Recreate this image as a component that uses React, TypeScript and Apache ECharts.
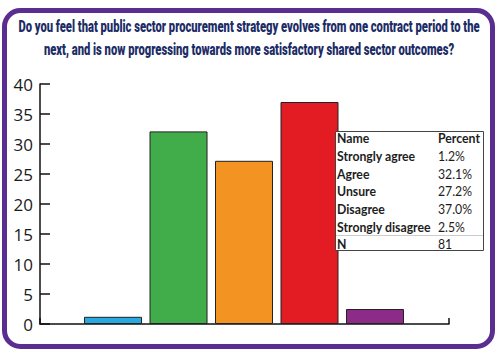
import React, { useEffect, useRef } from "react";
import * as echarts from "echarts";

const categories = ["Strongly agree", "Agree", "Unsure", "Disagree", "Strongly disagree"];
const percents = [1.2, 32.1, 27.2, 37.0, 2.5];
const respondents = 81;
const barColors = ["#27a9e1", "#40ad4a", "#f29322", "#e31c24", "#8c2c88"];
const yMin = 0;
const yMax = 40;
const yInterval = 5;
const titleLines = [
  "Do you feel that public sector procurement strategy evolves from one contract period to the",
  "next, and is now progressing towards more satisfactory shared sector outcomes?",
];
const tableHeader = ["Name", "Percent"];

function measure(text: string, font: string): number {
  const ctx = document.createElement("canvas").getContext("2d");
  if (!ctx) return text.length * 7;
  ctx.font = font;
  return ctx.measureText(text).width;
}

export default function App() {
  const ref = useRef<HTMLDivElement>(null);
  useEffect(() => {
    if (!ref.current) return;
    const chart = echarts.init(ref.current, undefined, { renderer: "svg" });

    const titleFont = "Roboto";
    const titleSize = 17;
    const titleWeight = 900;
    const t1w = measure(titleLines[0], `${titleWeight} ${titleSize}px ${titleFont}`);
    const titleScale = 462 / t1w;

    const tabFont = "Lato";
    const tabSize = 13;
    const sdw = measure(categories[4], `bold ${tabSize}px ${tabFont}`);
    const tabScale = 94 / sdw;

    const rowsL = [tableHeader[0], ...categories, "N"];
    const rowsR = [tableHeader[1], ...percents.map((p) => p.toFixed(1) + "%"), String(respondents)];

    const tableEls: any[] = [];
    tableEls.push({
      type: "rect",
      shape: { x: 335.5, y: 131.5, width: 148, height: 119 },
      style: { fill: "#fff", stroke: "#444", lineWidth: 1 },
      z: 10,
    });
    tableEls.push({
      type: "line",
      shape: { x1: 336, y1: 235.5, x2: 483, y2: 235.5 },
      style: { stroke: "#ccc", lineWidth: 1 },
      z: 11,
    });
    rowsL.forEach((txt, i) => {
      const y = 138.5 + i * 17.7;
      tableEls.push({
        type: "text",
        x: 337,
        y,
        scaleX: tabScale,
        z: 12,
        style: {
          text: txt,
          x: 0,
          y: 0,
          fontFamily: tabFont,
          fontWeight: "bold",
          fontSize: tabSize,
          fill: "#1e1e1e",
          align: "left",
          verticalAlign: "middle",
        },
      });
      tableEls.push({
        type: "text",
        x: 438,
        y,
        scaleX: tabScale,
        z: 12,
        style: {
          text: rowsR[i],
          x: 0,
          y: 0,
          fontFamily: tabFont,
          fontWeight: i === 0 ? "bold" : "normal",
          fontSize: tabSize,
          fill: "#1e1e1e",
          align: "left",
          verticalAlign: "middle",
        },
      });
    });

    const xMin = -1.115;
    const xMax = 5.13;

    chart.setOption({
      animation: false,
      backgroundColor: "#ffffff",
      grid: { left: 40, top: 84, width: 409, height: 240, containLabel: false },
      xAxis: {
        type: "value",
        min: xMin,
        max: xMax,
        interval: xMax - xMin,
        axisLine: { show: true, onZero: false, lineStyle: { color: "#111", width: 1.5 } },
        axisTick: { show: true, inside: true, length: 6, lineStyle: { color: "#111", width: 1.5 } },
        axisLabel: { show: false },
        splitLine: { show: false },
      },
      yAxis: {
        type: "value",
        min: yMin,
        max: yMax,
        interval: yInterval,
        axisLine: { show: true, onZero: false, lineStyle: { color: "#111", width: 1.5 } },
        axisTick: { show: true, inside: true, length: 10, lineStyle: { color: "#111", width: 1.5 } },
        axisLabel: {
          color: "#1a1a1a",
          fontSize: 17,
          fontFamily: "Open Sans",
          margin: 7,
        },
        splitLine: { show: false },
      },
      series: [
        {
          type: "bar",
          barWidth: 58,
          data: percents.map((v, i) => ({
            name: categories[i],
            value: [i, v],
            itemStyle: { color: barColors[i], borderColor: "#222", borderWidth: 1 },
          })),
        },
      ],
      graphic: [
        {
          type: "rect",
          shape: { x: 4.5, y: 10.5, width: 488, height: 336, r: 16 },
          style: { fill: "none", stroke: "#5a2d90", lineWidth: 5 },
          z: 5,
        },
        ...titleLines.map((line, i) => ({
          type: "text",
          x: 249,
          y: i === 0 ? 27 : 50,
          scaleX: titleScale,
          z: 6,
          style: {
            text: line,
            x: 0,
            y: 0,
            fontFamily: titleFont,
            fontWeight: titleWeight,
            fontSize: titleSize,
            fill: "#1c2c66",
            align: "center",
            verticalAlign: "middle",
          },
        })),
        ...tableEls,
      ],
    });
    return () => chart.dispose();
  }, []);
  return (
    <div
      ref={ref}
      style={{ position: "fixed", left: 0, top: 0, width: 500, height: 360, background: "#fff" }}
    />
  );
}
